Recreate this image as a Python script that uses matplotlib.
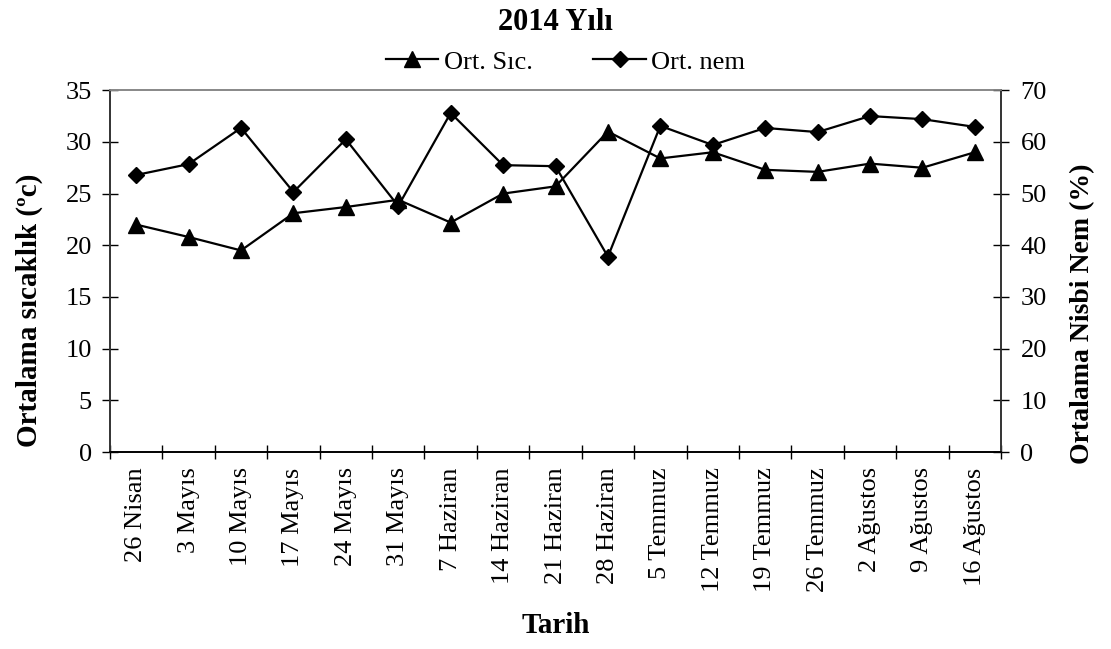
import matplotlib.pyplot as plt
import numpy as np

plt.rcParams["font.family"] = ["Liberation Serif", "DejaVu Serif"]

dates = [
    "26 Nisan", "3 Mayıs", "10 Mayıs", "17 Mayıs", "24 Mayıs", "31 Mayıs",
    "7 Haziran", "14 Haziran", "21 Haziran", "28 Haziran", "5 Temmuz",
    "12 Temmuz", "19 Temmuz", "26 Temmuz", "2 Ağustos", "9 Ağustos",
    "16 Ağustos",
]
ort_sic = [22.0, 20.8, 19.5, 23.1, 23.7, 24.4, 22.2, 25.0, 25.7, 31.0,
           28.4, 29.0, 27.3, 27.1, 27.9, 27.5, 29.0]
ort_nem = [53.6, 55.7, 62.7, 50.3, 60.5, 47.6, 65.6, 55.5, 55.3, 37.8,
           63.1, 59.4, 62.7, 61.9, 65.0, 64.4, 62.9]

x = np.arange(len(dates))

fig = plt.figure(figsize=(11.11, 6.49), dpi=100)
ax = fig.add_axes([0.099, 0.3035, 0.802, 0.5575])
ax2 = ax.twinx()

l1, = ax.plot(x, ort_sic, color="black", lw=1.6, marker="^", ms=11,
              label="Ort. Sıc.", zorder=3)
l2, = ax2.plot(x, ort_nem, color="black", lw=1.6, marker="D", ms=8,
               label="Ort. nem", zorder=3)

ax.set_xlim(-0.5, len(dates) - 0.5)
ax.set_ylim(0, 35)
ax2.set_ylim(0, 70)
ax.set_yticks(np.arange(0, 36, 5))
ax2.set_yticks(np.arange(0, 71, 10))

# category labels in the middle, tick marks on the boundaries
ax.set_xticks(np.arange(-0.5, len(dates), 1.0))
ax.set_xticklabels([])
ax.set_xticks(x, minor=True)
ax.set_xticklabels(dates, minor=True, rotation=90, fontsize=19)
ax.tick_params(axis="x", which="minor", length=0, pad=11)
ax.tick_params(axis="x", which="major", direction="inout", length=9.5, width=1)
ax.tick_params(axis="y", direction="inout", length=12, width=1, labelsize=19, pad=7)
ax2.tick_params(axis="y", direction="inout", length=12, width=1, labelsize=19, pad=8)

for a in (ax, ax2):
    a.spines["top"].set_color("#888888")
    a.spines["left"].set_color("#333333")
    a.spines["right"].set_color("#333333")
    a.spines["bottom"].set_color("black")
    for s in a.spines.values():
        s.set_linewidth(1.2)

ax.set_ylabel("Ortalama sıcaklık (ºc)", fontsize=21, fontweight="bold")
ax2.set_ylabel("Ortalama Nisbi Nem (%)", fontsize=20, fontweight="bold")
ax.set_xlabel("Tarih", fontsize=21, fontweight="bold")
ax.yaxis.set_label_coords(-0.09, 0.392)
ax2.yaxis.set_label_coords(1.092, 0.381)
ax.xaxis.set_label_coords(0.5, -0.48)
ax.yaxis.label.set_va("center")
ax2.yaxis.label.set_va("center")
ax.xaxis.label.set_va("center")

fig.text(0.5, 1 - 22 / 649, "2014 Yılı", fontsize=22, fontweight="bold",
         ha="center", va="center")
fig.legend(handles=[l1, l2], loc="center", bbox_to_anchor=(0.509, 1 - 62 / 649),
           ncol=2, frameon=False, fontsize=19, handlelength=2.0,
           columnspacing=2.3, handletextpad=0.2)

fig.savefig("out.png", dpi=100)
